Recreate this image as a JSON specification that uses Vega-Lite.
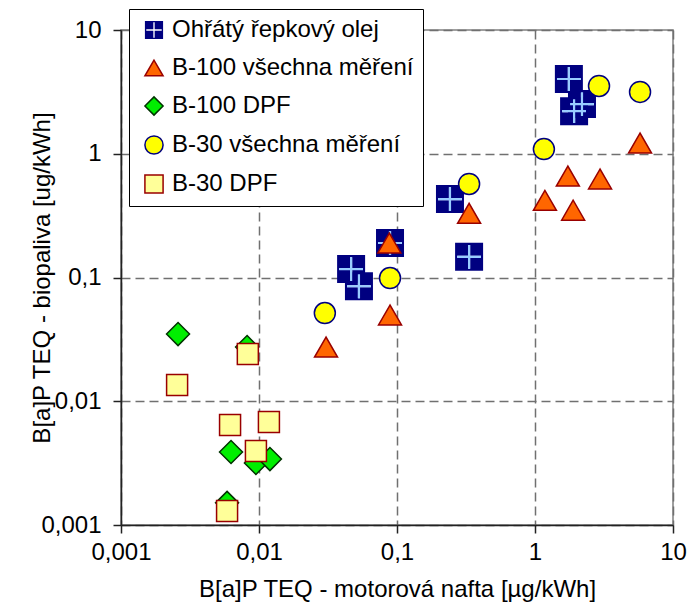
{
  "$schema": "https://vega.github.io/schema/vega-lite/v6.json",
  "width": 552,
  "height": 495,
  "autosize": {"type": "none"},
  "padding": {"left": 121, "top": 30, "right": 27, "bottom": 89},
  "background": "white",
  "config": {
    "font": "Liberation Sans",
    "view": {"stroke": "#808080", "strokeWidth": 1.5},
    "axis": {
      "domainColor": "#222222",
      "domainWidth": 1.5,
      "tickColor": "#222222",
      "tickWidth": 1.5,
      "tickSize": 8,
      "labelFont": "Liberation Sans",
      "labelFontSize": 24,
      "labelColor": "#000000",
      "titleFont": "Liberation Sans",
      "titleFontSize": 24,
      "titleFontWeight": "normal",
      "titleColor": "#000000",
      "grid": true,
      "gridDash": [9, 5],
      "gridColor": "#707070",
      "gridWidth": 1.5,
      "labelFlush": false,
      "labelOverlap": false
    },
    "legend": {
      "orient": "none",
      "legendX": 8,
      "legendY": -21,
      "strokeColor": "#000000",
      "fillColor": "#ffffff",
      "padding": 9,
      "rowPadding": 13,
      "labelFont": "Liberation Sans",
      "labelFontSize": 24,
      "labelColor": "#000000",
      "labelLimit": 400,
      "labelOffset": 6,
      "symbolSize": 330,
      "symbolStrokeWidth": 1.5,
      "symbolOffset": 4
    }
  },
  "data": {
    "values": [
      {"serie": "Ohřátý řepkový olej", "nafta": 2.19, "bio": 2.52},
      {"serie": "Ohřátý řepkový olej", "nafta": 1.76, "bio": 4.02},
      {"serie": "Ohřátý řepkový olej", "nafta": 1.92, "bio": 2.21},
      {"serie": "Ohřátý řepkový olej", "nafta": 0.242, "bio": 0.43},
      {"serie": "Ohřátý řepkový olej", "nafta": 0.333, "bio": 0.147},
      {"serie": "Ohřátý řepkový olej", "nafta": 0.089, "bio": 0.19},
      {"serie": "Ohřátý řepkový olej", "nafta": 0.0465, "bio": 0.117},
      {"serie": "Ohřátý řepkový olej", "nafta": 0.053, "bio": 0.085},
      {"serie": "B-100 všechna měření", "nafta": 0.088, "bio": 0.19},
      {"serie": "B-100 všechna měření", "nafta": 0.333, "bio": 0.33},
      {"serie": "B-100 všechna měření", "nafta": 1.18, "bio": 0.42},
      {"serie": "B-100 všechna měření", "nafta": 1.73, "bio": 0.66},
      {"serie": "B-100 všechna měření", "nafta": 1.89, "bio": 0.35},
      {"serie": "B-100 všechna měření", "nafta": 2.96, "bio": 0.625},
      {"serie": "B-100 všechna měření", "nafta": 5.77, "bio": 1.22},
      {"serie": "B-100 všechna měření", "nafta": 0.089, "bio": 0.0498},
      {"serie": "B-100 všechna měření", "nafta": 0.0306, "bio": 0.0274},
      {"serie": "B-100 DPF", "nafta": 0.00259, "bio": 0.0349},
      {"serie": "B-100 DPF", "nafta": 0.0082, "bio": 0.0274},
      {"serie": "B-100 DPF", "nafta": 0.00627, "bio": 0.00389},
      {"serie": "B-100 DPF", "nafta": 0.0095, "bio": 0.00317},
      {"serie": "B-100 DPF", "nafta": 0.012, "bio": 0.00341},
      {"serie": "B-100 DPF", "nafta": 0.00587, "bio": 0.00151},
      {"serie": "B-30 všechna měření", "nafta": 2.91, "bio": 3.53},
      {"serie": "B-30 všechna měření", "nafta": 5.77, "bio": 3.16},
      {"serie": "B-30 všechna měření", "nafta": 1.16, "bio": 1.09},
      {"serie": "B-30 všechna měření", "nafta": 0.333, "bio": 0.57},
      {"serie": "B-30 všechna měření", "nafta": 0.089, "bio": 0.099},
      {"serie": "B-30 všechna měření", "nafta": 0.03, "bio": 0.0516},
      {"serie": "B-30 DPF", "nafta": 0.0083, "bio": 0.0241},
      {"serie": "B-30 DPF", "nafta": 0.00255, "bio": 0.0135},
      {"serie": "B-30 DPF", "nafta": 0.00617, "bio": 0.00643},
      {"serie": "B-30 DPF", "nafta": 0.0118, "bio": 0.0068},
      {"serie": "B-30 DPF", "nafta": 0.0095, "bio": 0.00396},
      {"serie": "B-30 DPF", "nafta": 0.00587, "bio": 0.0013}
    ]
  },
  "encoding": {
    "x": {
      "field": "nafta",
      "type": "quantitative",
      "scale": {"type": "log", "domain": [0.001, 10]},
      "axis": {
        "values": [0.001, 0.01, 0.1, 1, 10],
        "labelExpr": "replace(format(datum.value, '~g'), '.', ',')",
        "title": "B[a]P TEQ - motorová nafta [µg/kWh]",
        "labelPadding": 7,
        "titlePadding": 13
      }
    },
    "y": {
      "field": "bio",
      "type": "quantitative",
      "scale": {"type": "log", "domain": [0.001, 10]},
      "axis": {
        "values": [0.001, 0.01, 0.1, 1, 10],
        "labelExpr": "replace(format(datum.value, '~g'), '.', ',')",
        "title": "B[a]P TEQ - biopaliva [ug/kWh]",
        "labelPadding": 12,
        "titlePadding": -14
      }
    },
    "fill": {
      "field": "serie",
      "type": "nominal",
      "title": null,
      "scale": {
        "domain": ["Ohřátý řepkový olej", "B-100 všechna měření", "B-100 DPF", "B-30 všechna měření", "B-30 DPF"],
        "range": ["#000080", "#ff6600", "#00ee00", "#ffff00", "#ffff99"]
      }
    },
    "stroke": {
      "field": "serie",
      "type": "nominal",
      "title": null,
      "scale": {
        "domain": ["Ohřátý řepkový olej", "B-100 všechna měření", "B-100 DPF", "B-30 všechna měření", "B-30 DPF"],
        "range": ["transparent", "#990000", "#003300", "#000080", "#990000"]
      }
    },
    "shape": {
      "field": "serie",
      "type": "nominal",
      "title": null,
      "scale": {
        "domain": ["Ohřátý řepkový olej", "B-100 všechna měření", "B-100 DPF", "B-30 všechna měření", "B-30 DPF"],
        "range": [
          "M-1,-1L1,-1L1,1L-1,1Z M-0.075,-0.85L-0.075,-0.075L-0.85,-0.075L-0.85,0.075L-0.075,0.075L-0.075,0.85L0.075,0.85L0.075,0.075L0.85,0.075L0.85,-0.075L0.075,-0.075L0.075,-0.85Z",
          "triangle-up",
          "diamond",
          "circle",
          "square"
        ]
      }
    }
  },
  "layer": [
    {
      "transform": [{"filter": "datum.serie === 'Ohřátý řepkový olej'"}],
      "mark": {"type": "point", "filled": true, "size": 784, "strokeWidth": 1.5, "opacity": 1}
    },
    {
      "transform": [{"filter": "datum.serie === 'Ohřátý řepkový olej'"}],
      "mark": {"type": "point", "size": 784, "strokeWidth": 2.2, "opacity": 1},
      "encoding": {
        "fill": {"value": "transparent"},
        "stroke": {"value": "#99ccff"},
        "shape": {"value": "M-0.85,0L0.85,0M0,-0.85L0,0.85"}
      }
    },
    {
      "transform": [{"filter": "datum.serie === 'B-100 všechna měření'"}],
      "mark": {"type": "point", "filled": true, "size": 529, "strokeWidth": 1.5, "opacity": 1}
    },
    {
      "transform": [{"filter": "datum.serie === 'B-100 DPF'"}],
      "mark": {"type": "point", "filled": true, "size": 529, "strokeWidth": 1.5, "opacity": 1}
    },
    {
      "transform": [{"filter": "datum.serie === 'B-30 všechna měření'"}],
      "mark": {"type": "point", "filled": true, "size": 441, "strokeWidth": 1.5, "opacity": 1}
    },
    {
      "transform": [{"filter": "datum.serie === 'B-30 DPF'"}],
      "mark": {"type": "point", "filled": true, "size": 441, "strokeWidth": 1.5, "opacity": 1}
    }
  ]
}
